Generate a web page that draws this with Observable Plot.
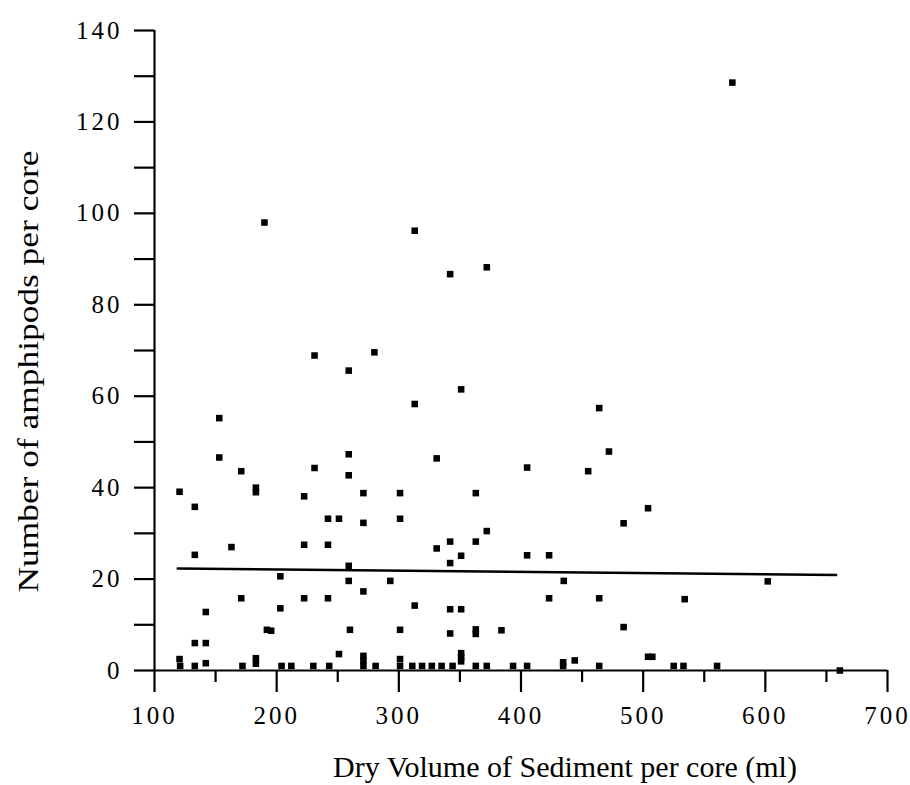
<!DOCTYPE html>
<html>
<head>
<meta charset="utf-8">
<script src="https://cdn.jsdelivr.net/npm/d3@7"></script>
<script src="https://cdn.jsdelivr.net/npm/@observablehq/plot@0.6"></script>
<style>
  html, body { margin: 0; padding: 0; background: #fff; }
  #chart svg { display: block; }
</style>
</head>
<body>
<div id="chart"></div>
<script>
// Dry volume of sediment per core (ml)
const volume = [
  190, 313, 342, 372, 573,
  231, 280, 259, 351, 313,
  153, 153, 259, 331, 171, 231, 259,
  120.5, 183, 183, 271, 301, 363, 222.5,
  133, 242, 251, 301, 271, 372,
  163, 222.5, 242, 331, 342, 363,
  133, 351, 342, 259, 203,
  259, 293, 271, 171, 222.5, 242,
  313, 203, 342, 351, 142,
  192, 195.5, 260, 301, 363, 363, 342, 384,
  133, 142,
  251, 271, 271, 351, 351, 351,
  120.5, 142, 183, 183, 301, 444, 504, 507.5, 434.5,
  464, 472, 405, 455, 504, 484, 405, 423,
  435, 602, 423, 464, 534, 484,
  121, 133, 172, 204, 212, 230, 243, 271, 281, 301, 311, 319, 327, 335, 344,
  363, 372, 393.5, 405, 434.5, 464, 525, 533, 560.5, 661
];
// Number of amphipods per core
const amphipods = [
  98, 96.2, 86.7, 88.2, 128.6,
  68.9, 69.6, 65.6, 61.5, 58.3,
  55.2, 46.6, 47.3, 46.4, 43.6, 44.3, 42.7,
  39.1, 40.0, 39.0, 38.8, 38.8, 38.8, 38.1,
  35.8, 33.2, 33.2, 33.2, 32.3, 30.5,
  27.0, 27.5, 27.5, 26.7, 28.2, 28.2,
  25.3, 25.1, 23.5, 22.9, 20.6,
  19.6, 19.6, 17.3, 15.8, 15.8, 15.8,
  14.2, 13.6, 13.4, 13.4, 12.8,
  8.9, 8.7, 8.9, 8.9, 9.0, 8.0, 8.1, 8.8,
  6.0, 6.0,
  3.6, 3.2, 2.2, 3.8, 2.9, 2.0,
  2.5, 1.6, 2.7, 1.5, 2.5, 2.2, 3.0, 3.0, 1.8,
  57.4, 47.9, 44.4, 43.6, 35.5, 32.2, 25.2, 25.2,
  19.6, 19.5, 15.8, 15.8, 15.6, 9.5,
  1, 1, 1, 1, 1, 1, 1, 1, 1, 1, 1, 1, 1, 1, 1,
  1, 1, 1, 1, 1, 1, 1, 1, 1, 0
];
// Fitted regression line (end points)
const fitVolume = [119, 658];
const fitAmphipods = [22.3, 20.9];

// Tick values
const xMajorTicks = [100, 200, 300, 400, 500, 600, 700];
const xMinorTicks = [150, 250, 350, 450, 550, 650];
const yTicks = [0, 10, 20, 30, 40, 50, 60, 70, 80, 90, 100, 110, 120, 130, 140];

const xLabel = "Dry Volume of Sediment per core (ml)";
const yLabel = "Number of amphipods per core";

const points = volume.map((v, i) => ({volume: v, amphipods: amphipods[i]}));
const fit = fitVolume.map((v, i) => ({volume: v, amphipods: fitAmphipods[i]}));

const chart = Plot.plot({
  width: 910,
  height: 785,
  marginLeft: 154,
  marginRight: 23,
  marginTop: 30,
  marginBottom: 115,
  style: {fontFamily: "'Liberation Serif', 'Times New Roman', serif", background: "#fff", color: "#000"},
  x: {domain: [100, 700]},
  y: {domain: [0, 140]},
  marks: [
    Plot.axisY(yTicks, {
      tickSize: 20, tickPadding: 12, strokeWidth: 2.2,
      tickFormat: d => (d % 20 === 0 ? String(d) : ""),
      fontSize: 25,
      label: yLabel, labelAnchor: "center", labelOffset: 138, labelArrow: "none"
    }),
    Plot.axisX(xMajorTicks, {
      tickSize: 22, tickPadding: 14, strokeWidth: 2.2,
      tickFormat: d => String(d),
      fontSize: 25,
      label: xLabel, labelAnchor: "center", labelOffset: 106, labelArrow: "none"
    }),
    Plot.axisX(xMinorTicks, {tickSize: 12, strokeWidth: 2.2, tickFormat: () => "", label: null}),
    Plot.ruleX([100], {y1: 0, y2: 140, stroke: "#000", strokeWidth: 2.2}),
    Plot.ruleY([0], {x1: 100, x2: 700, stroke: "#000", strokeWidth: 2.2}),
    Plot.line(fit, {x: "volume", y: "amphipods", stroke: "#000", strokeWidth: 2.4}),
    Plot.dot(points, {x: "volume", y: "amphipods", symbol: "square", r: 3.7, fill: "#000", stroke: null})
  ]
});

const svg = d3.select(chart);
svg.selectAll('[aria-label="x-axis tick label"] text, [aria-label="y-axis tick label"] text')
  .style("letter-spacing", "3px");
svg.selectAll('[aria-label="x-axis label"] text')
  .style("font-size", "30px")
  .attr("dx", 44);
svg.selectAll('[aria-label="y-axis label"] text')
  .style("font-size", "30px")
  .attr("dx", -21)
  .attr("textLength", 442)
  .attr("lengthAdjust", "spacingAndGlyphs");

document.getElementById("chart").appendChild(chart);
</script>
</body>
</html>
